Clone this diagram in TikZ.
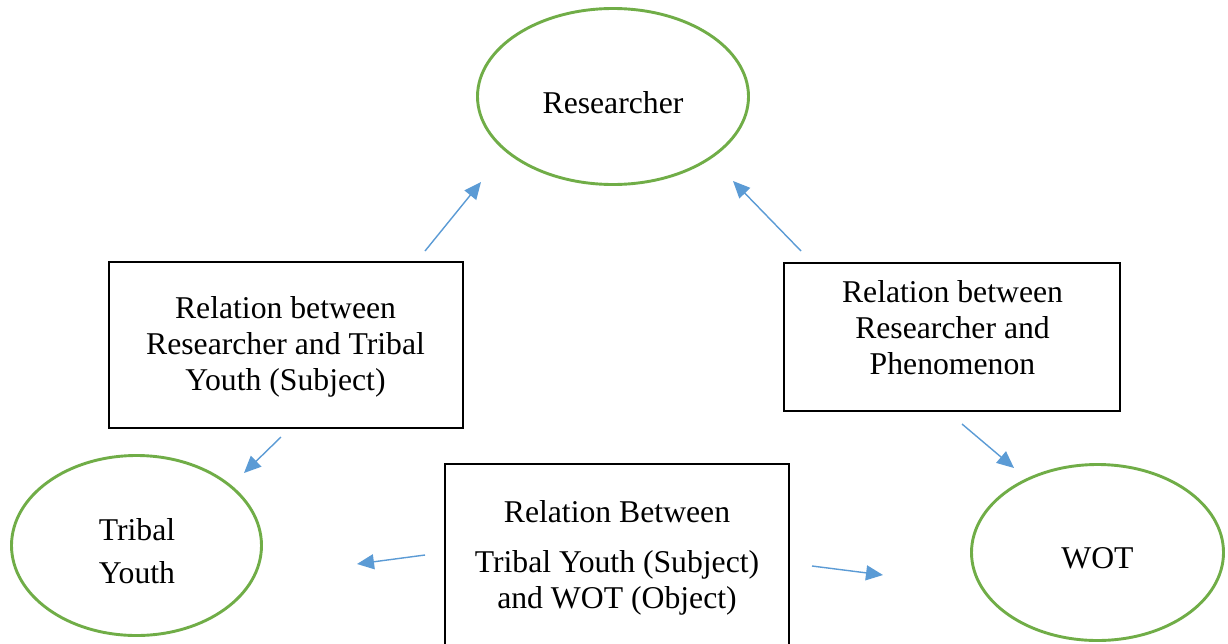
\documentclass[tikz,border=0pt]{standalone}
\usepackage{fontspec}
\setmainfont{Liberation Serif}
\usetikzlibrary{arrows.meta,shapes.geometric}
\definecolor{ellgreen}{HTML}{70AD47}
\definecolor{arrblue}{HTML}{5B9BD5}
\tikzset{
  ell/.style={ellipse, draw=ellgreen, line width=2.9pt, inner sep=0pt},
  relbox/.style={rectangle, draw=black, line width=1.3pt, inner sep=0pt},
  txt/.style={inner sep=0pt, align=center, font=\fontsize{31.7}{36}\selectfont},
  conn/.style={draw=arrblue, line width=1.4pt, -{Triangle[length=17pt,width=15pt]}}
}
\begin{document}
\begin{tikzpicture}[x=1pt,y=-1pt]
\clip (0,0) rectangle (1228,643);
\fill[white] (0,0) rectangle (1228,643);
% shapes
\node[ell, minimum width=271pt, minimum height=176pt] (res) at (613,96.5) {};
\node[ell, minimum width=250pt, minimum height=180pt] (ty) at (136.5,545.5) {};
\node[ell, minimum width=252pt, minimum height=176pt] (wot) at (1097.5,552.5) {};
\node[relbox, minimum width=354pt, minimum height=166pt] (lb) at (286,345) {};
\node[relbox, minimum width=336pt, minimum height=148pt] (rb) at (952,337) {};
\node[relbox, minimum width=344pt, minimum height=200pt] (bb) at (617,564) {};
% texts
\node[txt, anchor=base] (restxt) at (613,113) {Researcher};
\node[txt, anchor=base] (wottxt) at (1097.5,568) {WOT};
\node[txt, anchor=north] (tytxt) at (137,518.3) {Tribal\\[7pt]Youth};
\node[txt, anchor=north] (lbtxt) at (285.5,296.3) {Relation between\\Researcher and Tribal\\Youth (Subject)};
\node[txt, anchor=north] (rbtxt) at (952.5,280.3) {Relation between\\Researcher and\\Phenomenon};
\node[txt, anchor=north] (bbtxt) at (617,500.3) {Relation Between\\[14pt]Tribal Youth (Subject)\\and WOT (Object)};
% connector ends
\coordinate (a1s) at (425,251); \coordinate (a1e) at (481,182);
\coordinate (a2s) at (801,251); \coordinate (a2e) at (733,181);
\coordinate (a3s) at (281,437); \coordinate (a3e) at (244,473);
\coordinate (a4s) at (962,424); \coordinate (a4e) at (1014,468);
\coordinate (a5s) at (425,555); \coordinate (a5e) at (357,564);
\coordinate (a6s) at (812,566); \coordinate (a6e) at (883,575);
\draw[conn] (a1s) -- (a1e);
\draw[conn] (a2s) -- (a2e);
\draw[conn] (a3s) -- (a3e);
\draw[conn] (a4s) -- (a4e);
\draw[conn] (a5s) -- (a5e);
\draw[conn] (a6s) -- (a6e);
\end{tikzpicture}
\end{document}
